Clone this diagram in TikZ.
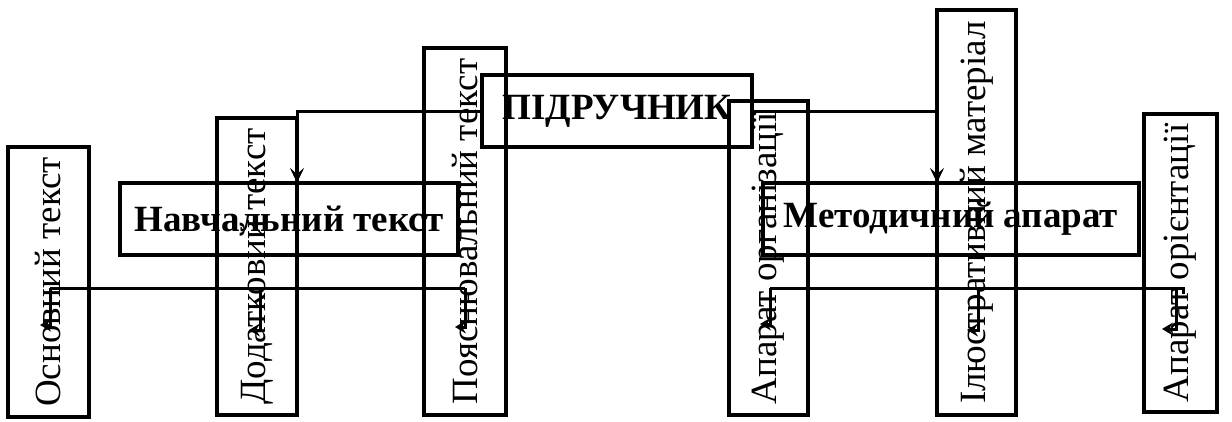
\documentclass[tikz,border=0pt]{standalone}
\usepackage{fontspec}
\setmainfont{Liberation Serif}
\usetikzlibrary{arrows.meta}
\begin{document}
\begin{tikzpicture}[x=1pt,y=-1pt,
  frame/.style={draw, line width=3.1pt, inner sep=0pt, outer sep=0pt},
  headbox/.style={frame, font=\fontsize{37}{40}\selectfont\bfseries},
  sidebox/.style={frame, font=\fontsize{37}{40}\selectfont},
  link/.style={line width=3pt},
  arr/.style={link, -{Stealth[length=15pt,width=14pt,inset=6pt]}},
  hook/.style={link, -{Stealth[length=11pt,width=13pt,inset=4pt]}}]
\useasboundingbox (0,0) rectangle (1232,421);

% main heading boxes
\node[headbox, minimum width=270, minimum height=72] (pid) at (617,111) {ПІДРУЧНИК};
\node[headbox, minimum width=338, minimum height=72] (nav) at (289,219) {Навчальний текст};
\node[headbox, minimum width=376, minimum height=72] (met) at (951,219) {Методичний апарат};

% upright boxes with rotated captions
\node[sidebox, minimum width=81, minimum height=270] (osn) at (48.5,282) {\rotatebox{90}{Основний текст}};
\node[sidebox, minimum width=80, minimum height=297] (dod) at (257,266.5) {\rotatebox{90}{Додатковий текст}};
\node[sidebox, minimum width=82, minimum height=367] (poy) at (465,231.5) {\rotatebox{90}{Пояснювальний текст}};
\node[sidebox, minimum width=79, minimum height=314] (aorg) at (768.5,258) {\rotatebox{90}{Апарат організації}};
\node[sidebox, minimum width=79, minimum height=405] (ilu) at (976.5,212.5) {\rotatebox{90}{Ілюстративний матеріал}};
\node[sidebox, minimum width=73, minimum height=298] (aor) at (1180.5,263) {\rotatebox{90}{Апарат орієнтації}};

% top level links
\draw[arr] (pid.west) -| (dod.east |- nav.north);
\draw[arr] (pid.east) -| (ilu.west |- met.north);

% lower left bus and its branches
\coordinate (lbusA) at (50,288);
\coordinate (lbusB) at (260,288);
\coordinate (lbusC) at (465,288);
\coordinate (osnIn) at (40,325);
\coordinate (dodIn) at (249,330);
\coordinate (poyIn) at (455,327);
\draw[link] (lbusA) -- (lbusC);
\draw[hook] (lbusA) |- (osnIn);
\draw[hook] (lbusB) |- (dodIn);
\draw[hook] (lbusC) |- (poyIn);

% lower right bus and its branches
\coordinate (rbusA) at (770,288);
\coordinate (rbusB) at (978,288);
\coordinate (rbusC) at (1176,288);
\coordinate (aorgIn) at (760,324);
\coordinate (iluIn) at (967,330);
\coordinate (aorIn) at (1162,329);
\draw[link] (rbusA) -- (1183,288) -- (1183,294);
\draw[hook] (rbusA) |- (aorgIn);
\draw[hook] (rbusB) |- (iluIn);
\draw[hook] (rbusC) |- (aorIn);
\end{tikzpicture}
\end{document}
